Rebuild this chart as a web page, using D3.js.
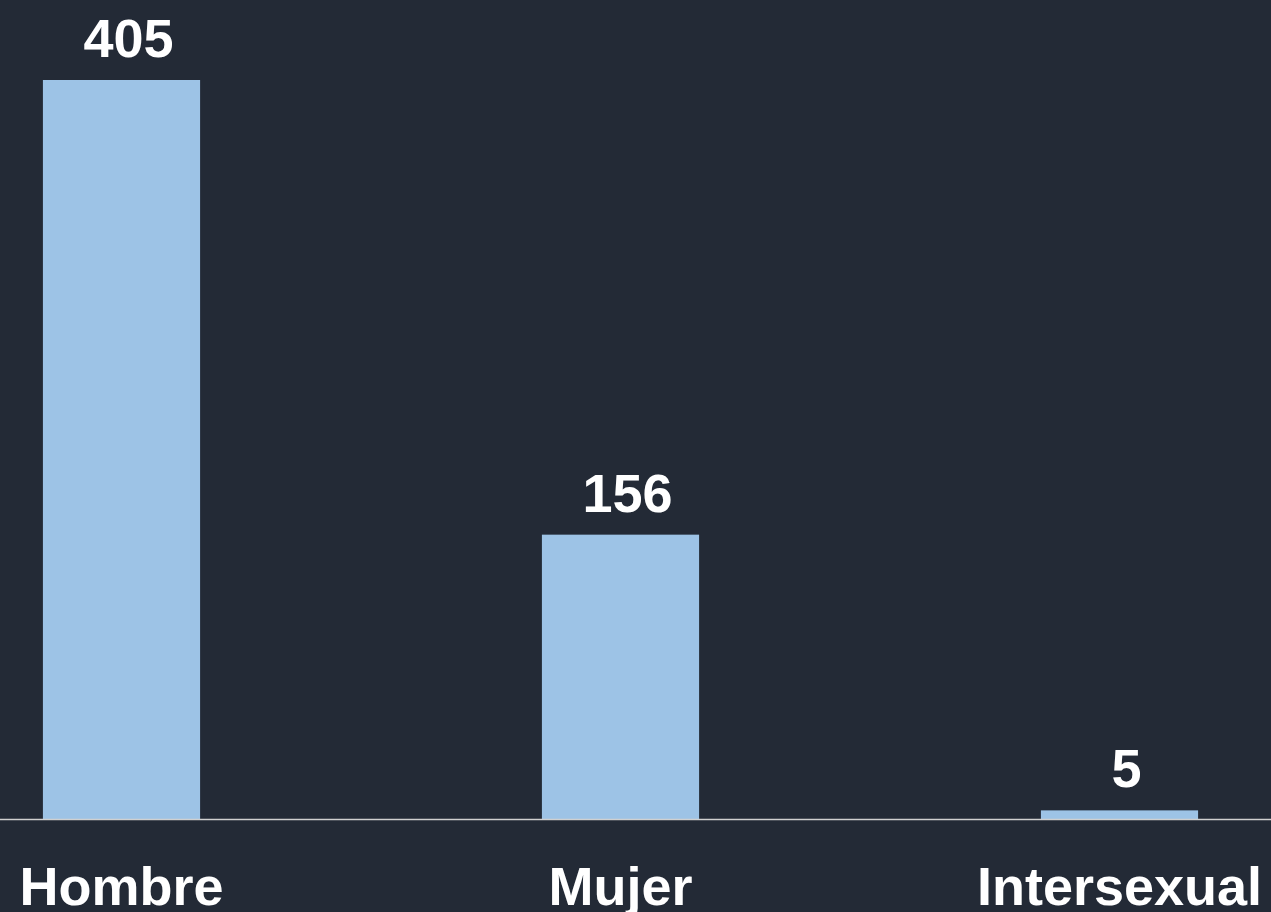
<!DOCTYPE html>
<html>
<head>
<meta charset="utf-8">
<script src="https://cdn.jsdelivr.net/npm/d3@7"></script>
<style>
  html, body { margin: 0; padding: 0; background: #232a36; }
  svg { display: block; }
</style>
</head>
<body>
<div id="chart"></div>
<script>
const width = 1271;
const height = 912;

const categories = ["Hombre", "Mujer", "Intersexual"];
const values = [405, 156, 5];

const baseY = 819.5;
const topY = 80;

const svg = d3.select("#chart").append("svg")
    .attr("width", width)
    .attr("height", height)
    .style("background", "#232a36");

const x = d3.scaleBand()
    .domain(categories)
    .range([0, 1241])
    .paddingInner(0.685)
    .paddingOuter(0.086);

const y = d3.scaleLinear()
    .domain([0, 405])
    .range([baseY, topY]);

const data = categories.map((c, i) => ({ cat: c, value: values[i] }));

// bars
svg.selectAll("rect.bar")
    .data(data)
    .enter().append("rect")
    .attr("class", "bar")
    .attr("x", d => x(d.cat))
    .attr("y", d => y(d.value))
    .attr("width", x.bandwidth())
    .attr("height", d => baseY - y(d.value))
    .attr("fill", "#9dc3e6");

// baseline
svg.append("line")
    .attr("x1", 0)
    .attr("x2", width)
    .attr("y1", baseY)
    .attr("y2", baseY)
    .attr("stroke", "#d0d0d0")
    .attr("stroke-width", 1.5);

// value labels (sit a little right of the bar centre, as in the original)
svg.selectAll("text.val")
    .data(data)
    .enter().append("text")
    .attr("class", "val")
    .attr("x", d => x(d.cat) + x.bandwidth() / 2 + 7)
    .attr("y", d => y(d.value) - 23)
    .attr("text-anchor", "middle")
    .attr("font-family", "'Liberation Sans', Arial, sans-serif")
    .attr("font-weight", "bold")
    .attr("font-size", "54px")
    .attr("fill", "#ffffff")
    .text(d => d.value);

// category labels
svg.selectAll("text.cat")
    .data(data)
    .enter().append("text")
    .attr("class", "cat")
    .attr("x", d => x(d.cat) + x.bandwidth() / 2)
    .attr("y", 905)
    .attr("text-anchor", "middle")
    .attr("font-family", "'Liberation Sans', Arial, sans-serif")
    .attr("font-weight", "bold")
    .attr("font-size", "54px")
    .attr("fill", "#ffffff")
    .text(d => d.cat);
</script>
</body>
</html>
